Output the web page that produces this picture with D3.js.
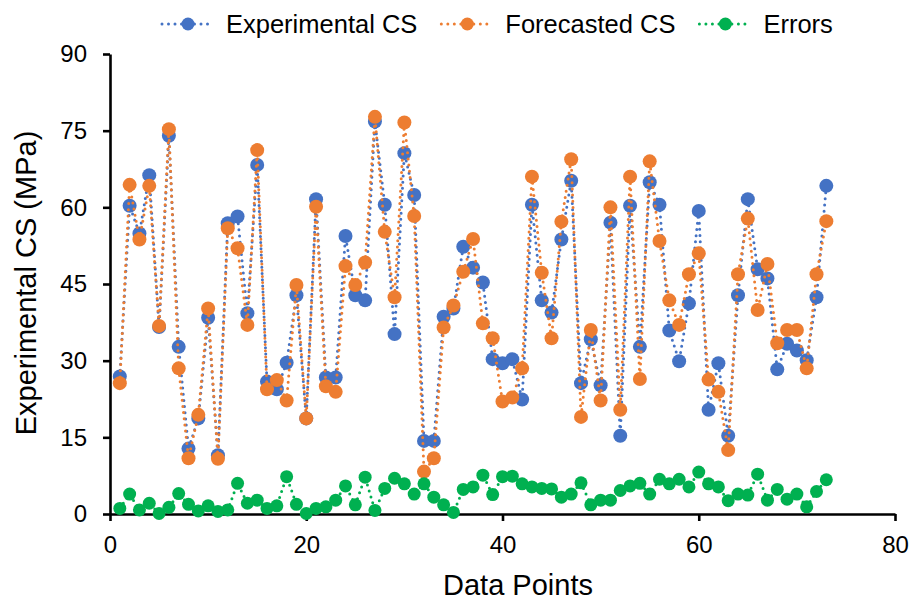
<!DOCTYPE html>
<html>
<head>
<meta charset="utf-8">
<script src="https://cdn.jsdelivr.net/npm/d3@7"></script>
<style>
  html, body { margin: 0; padding: 0; background: #fff; }
  svg { display: block; font-family: "Liberation Sans", Arial, sans-serif; }
</style>
</head>
<body>
<svg id="chart" width="918" height="602"></svg>
<script>
// ---- data ----
const seriesNames = ["Experimental CS", "Forecasted CS", "Errors"];
const seriesColors = ["#4472C4", "#ED7D31", "#00B050"];

const experimental = [26.9, 60.3, 54.9, 66.3, 36.6, 74.0, 32.7, 12.8, 18.7, 38.4,
  11.5, 56.9, 58.2, 39.3, 68.3, 25.9, 24.4, 29.6, 42.8, 18.7,
  61.6, 26.7, 26.7, 54.4, 42.8, 41.8, 76.8, 60.5, 35.2, 70.6,
  62.4, 14.3, 14.3, 38.6, 40.2, 52.3, 48.2, 45.3, 30.3, 29.5,
  30.3, 22.4, 60.5, 41.8, 39.4, 53.7, 65.2, 25.6, 34.2, 25.2,
  57.0, 15.3, 60.3, 32.7, 64.9, 60.5, 35.9, 29.9, 41.2, 59.3,
  20.4, 29.5, 15.3, 42.8, 61.6, 47.9, 46.1, 28.3, 33.3, 32.0,
  30.1, 42.4, 64.2];

const forecasted = [25.6, 64.4, 53.7, 64.2, 36.8, 75.3, 28.5, 10.9, 19.4, 40.2,
  10.8, 55.9, 52.0, 37.0, 71.2, 24.4, 26.2, 22.2, 44.8, 18.7,
  60.1, 25.0, 23.9, 48.5, 44.8, 49.2, 77.7, 55.2, 42.4, 76.6,
  58.3, 8.3, 10.9, 36.5, 40.8, 47.4, 53.8, 37.3, 34.4, 22.0,
  22.8, 28.5, 66.0, 47.2, 34.4, 57.2, 69.4, 19.0, 36.0, 22.2,
  60.0, 20.4, 66.0, 26.4, 69.0, 53.4, 41.8, 37.0, 46.9, 51.0,
  26.3, 23.9, 12.5, 46.9, 57.8, 39.9, 48.9, 33.4, 36.0, 36.0,
  28.5, 46.9, 57.3];

const errors = [1.1, 3.9, 0.8, 2.1, 0.1, 1.3, 4.0, 1.9, 0.6, 1.6,
  0.5, 0.8, 6.0, 2.1, 2.7, 1.1, 1.6, 7.3, 1.9, 0.1,
  1.1, 1.4, 2.7, 5.5, 1.8, 7.2, 0.7, 5.0, 7.0, 5.9,
  3.9, 5.9, 3.3, 1.8, 0.3, 4.8, 5.3, 7.6, 3.8, 7.3,
  7.4, 5.9, 5.3, 5.0, 4.9, 3.3, 3.9, 6.1, 1.8, 2.7,
  2.7, 4.6, 5.5, 6.0, 3.9, 6.8, 5.9, 6.8, 5.3, 8.2,
  5.9, 5.3, 2.6, 3.9, 3.7, 7.8, 2.7, 4.8, 2.9, 3.9,
  1.4, 4.4, 6.7];

const xTicks = [0, 20, 40, 60, 80];
const yTicks = [0, 15, 30, 45, 60, 75, 90];
const xTitle = "Data Points";
const yTitle = "Experimental CS (MPa)";

// ---- layout ----
const svg = d3.select("#chart");
const x = d3.scaleLinear().domain([0, 80]).range([110, 895]);
const y = d3.scaleLinear().domain([0, 90]).range([514, 54]);

const allSeries = [experimental, forecasted, errors].map((vals, k) => ({
  name: seriesNames[k],
  color: seriesColors[k],
  r: k === 2 ? 6.5 : 7,
  points: vals.map((v, i) => ({ x: i + 1, y: v }))
}));

// axes
const xAxis = d3.axisBottom(x).tickValues(xTicks).tickSize(7).tickSizeOuter(0).tickPadding(15);
const yAxis = d3.axisLeft(y).tickValues(yTicks).tickSize(7).tickSizeOuter(0).tickPadding(16);

const gx = svg.append("g").attr("transform", `translate(0,${y(0)})`).call(xAxis);
const gy = svg.append("g").attr("transform", `translate(${x(0)},0)`).call(yAxis);
[gx, gy].forEach(g => {
  g.select(".domain").attr("stroke", "#000").attr("stroke-width", 2.6);
  g.selectAll(".tick line").attr("stroke", "#000").attr("stroke-width", 2.6);
  g.selectAll(".tick text").attr("fill", "#000").style("font-size", "24px")
    .style("font-family", "'Liberation Sans', Arial, sans-serif");
});

// series
const line = d3.line().x(d => x(d.x)).y(d => y(d.y));
allSeries.forEach(s => {
  const g = svg.append("g");
  g.append("path")
    .attr("d", line(s.points))
    .attr("fill", "none")
    .attr("stroke", s.color)
    .attr("stroke-width", 3)
    .attr("stroke-linecap", "round")
    .attr("stroke-dasharray", "0 6.2");
  g.selectAll("circle").data(s.points).join("circle")
    .attr("cx", d => x(d.x))
    .attr("cy", d => y(d.y))
    .attr("r", s.r)
    .attr("fill", s.color);
});

// axis titles
svg.append("text")
  .attr("x", 518).attr("y", 595)
  .attr("text-anchor", "middle")
  .style("font-size", "29px").attr("fill", "#000")
  .text(xTitle);

svg.append("text")
  .attr("transform", `translate(36,${283}) rotate(-90)`)
  .attr("text-anchor", "middle")
  .style("font-size", "29px").attr("fill", "#000")
  .text(yTitle);

// legend
const legend = svg.append("g");
let lx = 162;
const ly = 24;
allSeries.forEach(s => {
  const item = legend.append("g").attr("transform", `translate(${lx},${ly})`);
  item.append("line")
    .attr("x1", 0).attr("x2", 50).attr("y1", 0).attr("y2", 0)
    .attr("stroke", s.color).attr("stroke-width", 3)
    .attr("stroke-linecap", "round").attr("stroke-dasharray", "0 6.5");
  item.append("circle").attr("cx", 26).attr("cy", 0).attr("r", 6.5).attr("fill", s.color);
  const t = item.append("text")
    .attr("x", 64).attr("y", 9)
    .style("font-size", "25.5px").attr("fill", "#000")
    .text(s.name);
  lx += 64 + t.node().getComputedTextLength() + 24;
});
</script>
</body>
</html>
